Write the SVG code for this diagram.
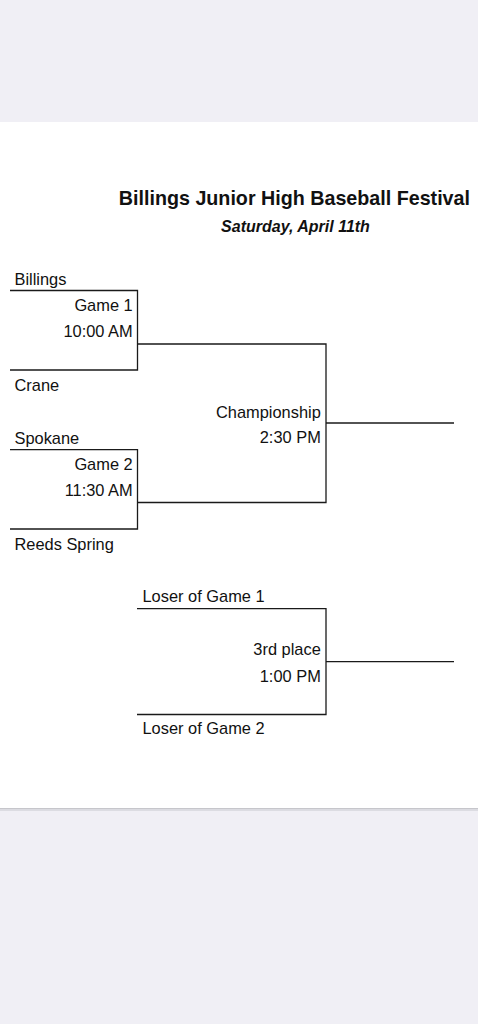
<svg xmlns="http://www.w3.org/2000/svg" width="478" height="1024" viewBox="0 0 478 1024">
<style>
.t{font-family:"Liberation Sans",Arial,sans-serif;font-size:16.4px;fill:#111}
.r{text-anchor:end}
.ln{stroke:#1a1a1a;stroke-width:1.3;fill:none}
</style>
<rect x="0" y="0" width="478" height="1024" fill="#f0eff5"/>
<rect x="0" y="122" width="478" height="686" fill="#ffffff"/>
<rect x="0" y="808" width="478" height="1.5" fill="#c6c6cb"/>
<rect x="0" y="809.5" width="478" height="1.5" fill="#dcdce2"/>
<g id="title">
<text x="470" y="204.5" text-anchor="end" style="font-family:'Liberation Sans',Arial,sans-serif;font-size:19.7px;font-weight:bold;fill:#111">Billings Junior High Baseball Festival</text>
<text x="295.5" y="231.5" text-anchor="middle" style="font-family:'Liberation Sans',Arial,sans-serif;font-size:16px;font-weight:bold;font-style:italic;fill:#111">Saturday, April 11th</text>
</g>
<g id="connectors">
<path class="ln" d="M10 290.5H137.5V370H10"/>
<path class="ln" d="M137.5 344H326V502.5H137.5"/>
<path class="ln" d="M10 449.7H137.5V529H10"/>
<path class="ln" d="M326 423H454"/>
<path class="ln" d="M137 608.7H326V714.5H137"/>
<path class="ln" d="M326 661.7H454"/>
</g>
<g id="billings"><text class="t" x="14.5" y="284.5">Billings</text></g>
<g id="crane"><text class="t" x="14.5" y="390.5">Crane</text></g>
<g id="game1"><text class="t r" x="132.7" y="311">Game 1</text><text class="t r" x="132.7" y="337">10:00 AM</text></g>
<g id="spokane"><text class="t" x="14.5" y="443.7">Spokane</text></g>
<g id="reeds"><text class="t" x="14.5" y="549.7">Reeds Spring</text></g>
<g id="game2"><text class="t r" x="132.7" y="470.4">Game 2</text><text class="t r" x="132.7" y="496.4">11:30 AM</text></g>
<g id="championship"><text class="t r" x="320.8" y="417.6">Championship</text><text class="t r" x="320.8" y="443">2:30 PM</text></g>
<g id="loser1"><text class="t" x="142.5" y="602.4">Loser of Game 1</text></g>
<g id="third"><text class="t r" x="320.8" y="655.4">3rd place</text><text class="t r" x="320.8" y="682">1:00 PM</text></g>
<g id="loser2"><text class="t" x="142.5" y="734.4">Loser of Game 2</text></g>
</svg>
